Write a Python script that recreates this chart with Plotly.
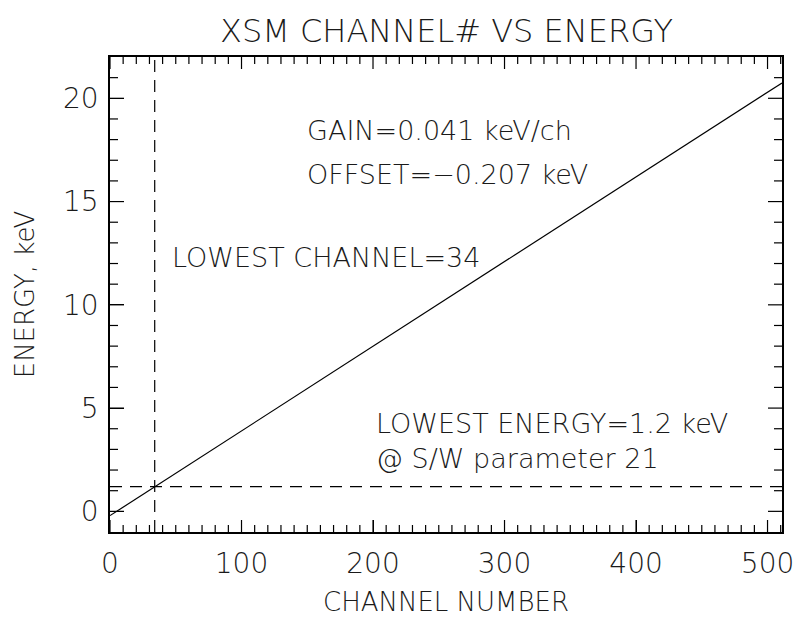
import numpy as np
import plotly.graph_objects as go

# Calibration line: channel number vs energy
CHANNELS = [0, 511]
ENERGY_KEV = [-0.207, 20.744]
GAIN = 0.041
OFFSET = -0.207
LOWEST_CHANNEL = 34
LOWEST_ENERGY = 1.2
SW_PARAMETER = 21
TITLE = "XSM CHANNEL# VS ENERGY"

X_RANGE = [0, 511]
Y_RANGE = [-1, 22]
X_TICK_STEP = 100
X_MINOR_STEP = 10
Y_TICK_STEP = 5
Y_MINOR_STEP = 1

FONT = "DejaVu Sans, Liberation Sans, sans-serif"
INK = "#1a1a1a"
WEIGHT = 200

# tick mark lengths in pixels
X_MAJOR_LEN, X_MINOR_LEN = 12, 7
Y_MAJOR_LEN, Y_MINOR_LEN = 14, 8

fig = go.Figure()

fig.add_trace(go.Scatter(
    x=CHANNELS, y=ENERGY_KEV, mode="lines",
    line=dict(color="black", width=1.2), showlegend=False,
))

fig.add_vline(x=LOWEST_CHANNEL, line=dict(color="black", width=1.2, dash="12px,8px"))
fig.add_hline(y=LOWEST_ENERGY, line=dict(color="black", width=1.2, dash="12px,8px"))

# inward tick marks on all four sides of the frame (major + minor)
tick_line = dict(color="black", width=1.2)


def is_major(v, step):
    return abs(v / step - round(v / step)) < 1e-9


x_marks = np.arange(X_RANGE[0], X_RANGE[1] + 1e-9, X_MINOR_STEP)
for v in x_marks:
    ln = X_MAJOR_LEN if is_major(v, X_TICK_STEP) else X_MINOR_LEN
    for anchor, sign in ((0, 1), (1, -1)):
        fig.add_shape(type="line", xref="x", yref="y domain", x0=v, x1=v,
                      ysizemode="pixel", yanchor=anchor, y0=0, y1=sign * ln,
                      line=tick_line, layer="above")

y_marks = np.arange(np.ceil(Y_RANGE[0]), Y_RANGE[1] + 1e-9, Y_MINOR_STEP)
for v in y_marks:
    if v <= Y_RANGE[0] or v >= Y_RANGE[1]:
        continue
    ln = Y_MAJOR_LEN if is_major(v, Y_TICK_STEP) else Y_MINOR_LEN
    for anchor, sign in ((0, 1), (1, -1)):
        fig.add_shape(type="line", xref="x domain", yref="y", y0=v, y1=v,
                      xsizemode="pixel", xanchor=anchor, x0=0, x1=sign * ln,
                      line=tick_line, layer="above")

ann_font = dict(family=FONT, size=27, color=INK, weight=WEIGHT)
notes = [
    (148, 18.45, f"GAIN={GAIN:.3f} keV/ch"),
    (148, 16.3, f"OFFSET=\u2212{abs(OFFSET):.3f} keV"),
    (45.5, 12.3, f"LOWEST CHANNEL={LOWEST_CHANNEL}"),
    (201, 4.25, f"LOWEST ENERGY={LOWEST_ENERGY} keV"),
    (201, 2.55, f"@ S/W parameter {SW_PARAMETER}"),
]
for x, y, txt in notes:
    fig.add_annotation(x=x, y=y, text=txt, showarrow=False, xanchor="left",
                       yanchor="middle", font=ann_font)

# chart heading, centred over the plotting area
fig.add_annotation(x=0.5, y=1.0, xref="paper", yref="paper", yshift=26,
                   text=TITLE, showarrow=False, xanchor="center", yanchor="middle",
                   font=dict(family=FONT, size=32, color=INK, weight=WEIGHT))

tick_font = dict(family=FONT, size=28, color=INK, weight=WEIGHT)
title_font = dict(family=FONT, size=26, color=INK, weight=WEIGHT)

fig.update_xaxes(
    range=X_RANGE, dtick=X_TICK_STEP,
    showline=True, linecolor="black", linewidth=1.5, mirror=True,
    ticks="inside", ticklen=X_MAJOR_LEN, tickcolor="black",
    showgrid=False, zeroline=False,
    tickfont=tick_font, ticklabelstandoff=6,
    title=dict(text="CHANNEL NUMBER", font=title_font, standoff=13),
    automargin=False,
)
fig.update_yaxes(
    range=Y_RANGE, dtick=Y_TICK_STEP,
    showline=True, linecolor="black", linewidth=1.5, mirror=True,
    ticks="inside", ticklen=Y_MAJOR_LEN, tickcolor="black",
    showgrid=False, zeroline=False,
    tickfont=tick_font, ticklabelstandoff=4,
    title=dict(text="ENERGY, keV", font=title_font, standoff=21),
    automargin=False,
)

fig.update_layout(
    width=799, height=619,
    margin=dict(l=110, r=17, t=57, b=87),
    paper_bgcolor="white", plot_bgcolor="white",
)

fig.write_html("out.html")
